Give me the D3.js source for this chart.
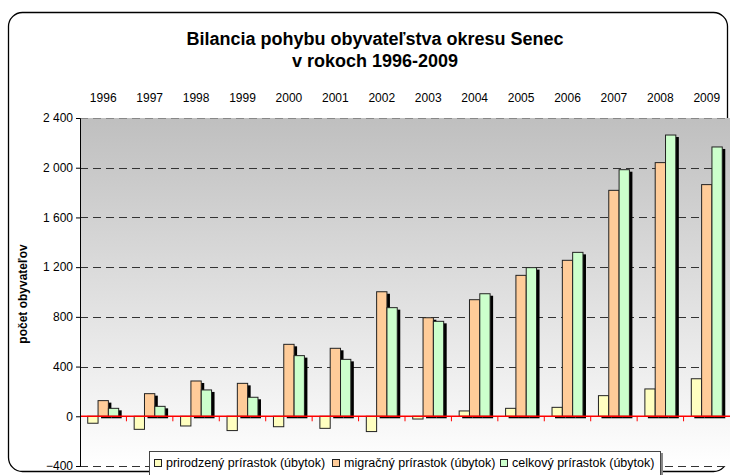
<!DOCTYPE html>
<meta charset="utf-8">
<style>
body { margin: 0; background: #fff; }
svg { display: block; font-family: "Liberation Sans", Arial, sans-serif; }
.tick text { font-size: 12px; fill: #000; }
</style>
<svg width="730" height="475"></svg>
<script src="https://cdn.jsdelivr.net/npm/d3@7"></script>
<script>

var years = ["1996","1997","1998","1999","2000","2001","2002","2003","2004","2005","2006","2007","2008","2009"];
var prirodzeny = [-56, -105, -78, -115, -84, -97, -123, -22, 43, 64, 72, 166, 220, 302];
var migracny = [126, 182, 284, 265, 579, 547, 1002, 793, 938, 1134, 1255, 1818, 2041, 1864];
var celkovy = [64, 80, 212, 153, 488, 458, 874, 764, 986, 1196, 1319, 1984, 2263, 2167];
var seriesNames = ["prirodzený prírastok (úbytok)", "migračný prírastok (úbytok)", "celkový prírastok (úbytok)"];
var seriesColors = ["#ffffc0", "#ffcc99", "#ccffcc"];
var yTicks = [-400, 0, 400, 800, 1200, 1600, 2000, 2400];

var svg = d3.select("svg"),
    plotL = 80, plotR = 730, plotT = 118, plotB = 466;

// outer frame
svg.append("rect")
    .attr("x", 8.5).attr("y", 12.5)
    .attr("width", 719).attr("height", 459)
    .attr("rx", 14)
    .attr("fill", "#fff").attr("stroke", "#000").attr("stroke-width", 1.3);

var grad = svg.append("defs").append("linearGradient")
    .attr("id", "bg").attr("x1", 0).attr("y1", 0).attr("x2", 0).attr("y2", 1);
grad.append("stop").attr("offset", "0%").attr("stop-color", "#bfbfbf");
grad.append("stop").attr("offset", "100%").attr("stop-color", "#ffffff");

var x = d3.scaleBand().domain(years).range([plotL, plotR]);
var y = d3.scaleLinear().domain([-400, 2400]).range([plotB, plotT]);
var bw = x.bandwidth() / 4.5;

svg.append("rect")
    .attr("x", plotL).attr("y", plotT)
    .attr("width", plotR - plotL).attr("height", plotB - plotT)
    .attr("fill", "url(#bg)");

// gridlines
svg.append("g").selectAll("line")
  .data(yTicks.filter(function(d) { return d != 0; }))
  .enter().append("line")
    .attr("x1", plotL).attr("x2", plotR)
    .attr("y1", function(d) { return Math.round(y(d)) + 0.5; })
    .attr("y2", function(d) { return Math.round(y(d)) + 0.5; })
    .attr("stroke", function(d) { return d == 2400 ? "#888" : "#333"; })
    .attr("stroke-dasharray", "8,5");

// title
var title = svg.append("text")
    .attr("text-anchor", "middle")
    .attr("font-size", "18px").attr("font-weight", "bold");
title.append("tspan").attr("x", 375).attr("y", 45).text("Bilancia pohybu obyvateľstva okresu Senec");
title.append("tspan").attr("x", 375).attr("y", 67).text("v rokoch 1996-2009");

// year labels above plot
svg.append("g").selectAll("text")
  .data(years)
  .enter().append("text")
    .attr("x", function(d) { return x(d) + x.bandwidth() / 2; })
    .attr("y", 102)
    .attr("text-anchor", "middle")
    .attr("font-size", "12px")
    .text(function(d) { return d; });

// bars
var data = [prirodzeny, migracny, celkovy];
var groups = years.map(function(yr, i) {
  return data.map(function(s, k) { return { year: yr, k: k, v: s[i] }; });
});
var flat = [].concat.apply([], groups);

var barX = function(d) { return x(d.year) + bw * 0.75 + d.k * bw; };

svg.append("g").selectAll("rect")
  .data(flat.filter(function(d) { return d.v > 0; }))
  .enter().append("rect")
    .attr("x", function(d) { return barX(d) + 3; })
    .attr("y", function(d) { return y(d.v) + 2; })
    .attr("width", bw)
    .attr("height", function(d) { return y(0) - y(d.v); })
    .attr("fill", "#000");

svg.append("g").selectAll("rect")
  .data(flat)
  .enter().append("rect")
    .attr("x", barX)
    .attr("y", function(d) { return y(Math.max(0, d.v)); })
    .attr("width", bw)
    .attr("height", function(d) { return Math.abs(y(d.v) - y(0)); })
    .attr("fill", function(d) { return seriesColors[d.k]; })
    .attr("stroke", "#222").attr("stroke-width", 1);

// zero line with red ticks
svg.append("line")
    .attr("x1", plotL).attr("x2", plotR)
    .attr("y1", y(0)).attr("y2", y(0))
    .attr("stroke", "#ff0000").attr("stroke-width", 1.6);
svg.append("g").selectAll("line")
  .data(years.slice(1))
  .enter().append("line")
    .attr("x1", function(d) { return x(d); }).attr("x2", function(d) { return x(d); })
    .attr("y1", y(0)).attr("y2", y(0) + 5)
    .attr("stroke", "#ff0000");

// y axis
var yAxis = d3.axisLeft(y)
    .tickValues(yTicks)
    .tickSize(4)
    .tickFormat(function(d) { return d3.format(",")(d).replace(",", " "); });
var ax = svg.append("g").attr("transform", "translate(" + plotL + ",0)").call(yAxis);
ax.select(".domain").attr("stroke", "#000");
ax.selectAll(".tick line").attr("stroke", "#000");
ax.selectAll(".tick text").attr("x", -7);

svg.append("text")
    .attr("transform", "translate(27,294) rotate(-90)")
    .attr("text-anchor", "middle")
    .attr("font-size", "12px").attr("font-weight", "bold")
    .text("počet obyvateľov");

// legend
var lg = svg.append("g").attr("transform", "translate(149,451)");
lg.append("rect").attr("x", 2).attr("y", 2).attr("width", 512).attr("height", 30).attr("fill", "#888");
lg.append("rect").attr("x", 0.5).attr("y", 0.5).attr("width", 511).attr("height", 30)
    .attr("fill", "#fff").attr("stroke", "#444");
var legX = [5, 183, 351];
seriesNames.forEach(function(n, k) {
  lg.append("rect")
      .attr("x", legX[k] + 0.5).attr("y", 8.5).attr("width", 7).attr("height", 7)
      .attr("fill", seriesColors[k]).attr("stroke", "#222");
  lg.append("text")
      .attr("x", legX[k] + 12).attr("y", 16)
      .attr("font-size", "12.5px")
      .text(n);
});

</script>
